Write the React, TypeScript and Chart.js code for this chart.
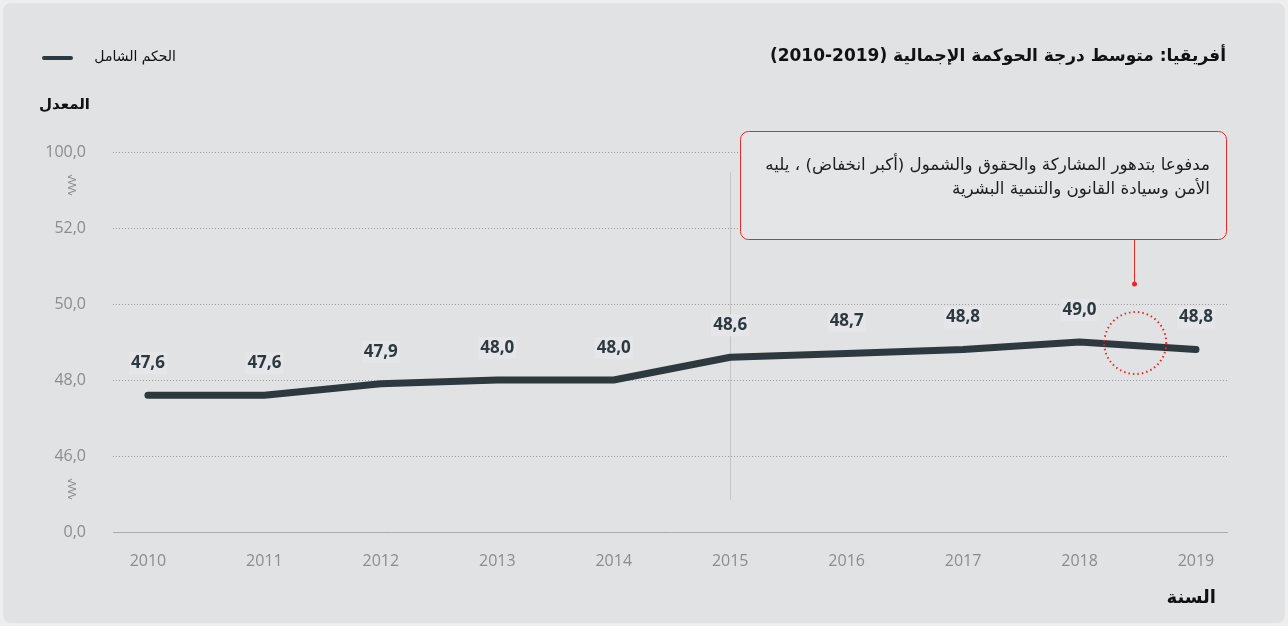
import React, { useEffect, useRef } from "react";
import { Chart, registerables } from "chart.js";

Chart.register(...registerables);

const years = [2010, 2011, 2012, 2013, 2014, 2015, 2016, 2017, 2018, 2019];
const scores = [47.6, 47.6, 47.9, 48.0, 48.0, 48.6, 48.7, 48.8, 49.0, 48.8];
const yTickValues = [0, 46, 48, 50, 52, 100];
const seriesLabel = "الحكم الشامل";
const titleText = "أفريقيا: متوسط درجة الحوكمة الإجمالية (2019-2010)";
const yTitle = "المعدل";
const xTitle = "السنة";
const noteLines = [
  "مدفوعا بتدهور المشاركة والحقوق والشمول (أكبر انخفاض) ، يليه",
  "الأمن وسيادة القانون والتنمية البشرية",
];
const markerYear = 2015;
const focusYear = 2018.47;

// broken axis: 0 | 46..52 | 100 mapped to evenly spaced positions
const toPos = (v: number) => {
  for (let i = 0; i < yTickValues.length - 1; i++) {
    const a = yTickValues[i], b = yTickValues[i + 1];
    if (v <= b) return i + (v - a) / (b - a);
  }
  return yTickValues.length - 1;
};

const fmt = (v: number) => v.toFixed(1).replace(".", ",");

const AR_FONT = "'DejaVu Sans', 'Noto Sans', sans-serif";
const NUM_FONT = "'Open Sans', 'Noto Sans', sans-serif";
const DARK = "#2d393f";

const decorPlugin = {
  id: "decor",
  beforeDraw(chart: any) {
    const { ctx, width, height } = chart;
    ctx.save();
    ctx.fillStyle = "#eeeeef";
    ctx.fillRect(0, 0, width, height);
    ctx.fillStyle = "#e1e2e4";
    ctx.beginPath();
    ctx.roundRect(3, 3, width - 6, height - 6, 8);
    ctx.fill();
    ctx.restore();
  },
  beforeDatasetsDraw(chart: any) {
    const { ctx, scales, chartArea } = chart;
    const x = scales.x, y = scales.y;
    ctx.save();
    // grid lines
    yTickValues.forEach((_, i) => {
      const py = Math.round(y.getPixelForValue(i)) + 0.5;
      ctx.beginPath();
      ctx.lineWidth = 1;
      if (i === 0) {
        ctx.setLineDash([]);
        ctx.strokeStyle = "#a9aaac";
      } else {
        ctx.setLineDash([1, 2]);
        ctx.strokeStyle = "#9c9da0";
      }
      ctx.moveTo(chartArea.left, py);
      ctx.lineTo(chartArea.right, py);
      ctx.stroke();
    });
    ctx.setLineDash([]);
    // vertical marker line
    const mx = x.getPixelForValue(markerYear);
    ctx.strokeStyle = "#c4c5c7";
    ctx.lineWidth = 1;
    ctx.beginPath();
    ctx.moveTo(Math.round(mx) + 0.5, 172);
    ctx.lineTo(Math.round(mx) + 0.5, 500);
    ctx.stroke();
    // axis break zigzags
    const drawZig = (cy: number) => {
      ctx.strokeStyle = "#8a8a8a";
      ctx.lineWidth = 1;
      ctx.beginPath();
      const cx = 72;
      ctx.moveTo(cx, cy - 10);
      for (let k = 0; k < 7; k++) {
        ctx.lineTo(cx + (k % 2 === 0 ? -4 : 4), cy - 8 + k * 2.7);
      }
      ctx.lineTo(cx, cy + 10);
      ctx.stroke();
    };
    drawZig((y.getPixelForValue(5) + y.getPixelForValue(4)) / 2 - 5);
    drawZig((y.getPixelForValue(1) + y.getPixelForValue(0)) / 2 - 5);
    ctx.restore();
  },
  afterDatasetsDraw(chart: any) {
    const { ctx, scales } = chart;
    const x = scales.x;
    const meta = chart.getDatasetMeta(0);
    ctx.save();
    // data labels
    ctx.font = `bold 17px ${NUM_FONT}`;
    ctx.textAlign = "center";
    ctx.textBaseline = "middle";
    meta.data.forEach((pt: any, i: number) => {
      const txt = fmt(scores[i]);
      const w = ctx.measureText(txt).width;
      const ly = pt.y - 32;
      ctx.fillStyle = "rgba(230,231,233,0.9)";
      ctx.fillRect(pt.x - w / 2 - 2, ly - 11, w + 4, 22);
      ctx.fillStyle = DARK;
      ctx.fillText(txt, pt.x, ly);
    });

    // callout
    const fx = x.getPixelForValue(focusYear);
    ctx.strokeStyle = "#e52a2a";
    ctx.lineWidth = 1;
    ctx.fillStyle = "#e4e5e7";
    ctx.beginPath();
    ctx.roundRect(740.5, 131.5, 486, 108, 8);
    ctx.fill();
    ctx.stroke();
    ctx.fillStyle = "#1e1e1e";
    ctx.font = `16.7px ${AR_FONT}`;
    ctx.textAlign = "right";
    ctx.direction = "rtl";
    ctx.fillText(noteLines[0], 1210, 166);
    ctx.fillText(noteLines[1], 1210, 190);
    ctx.direction = "ltr";
    ctx.beginPath();
    ctx.moveTo(Math.round(fx) + 0.5, 240);
    ctx.lineTo(Math.round(fx) + 0.5, 283);
    ctx.stroke();
    ctx.fillStyle = "#e52a2a";
    ctx.beginPath();
    ctx.arc(Math.round(fx) + 0.5, 284, 2.5, 0, Math.PI * 2);
    ctx.fill();
    // dotted circle
    ctx.setLineDash([1.5, 3]);
    ctx.lineWidth = 2;
    ctx.beginPath();
    ctx.arc(fx + 1, 343, 31, 0, Math.PI * 2);
    ctx.stroke();
    ctx.setLineDash([]);

    // title
    ctx.fillStyle = "#111";
    ctx.font = `bold 17px ${AR_FONT}`;
    ctx.textAlign = "right";
    ctx.direction = "rtl";
    ctx.fillText(titleText, 1226, 57);
    // legend
    ctx.font = `14px ${AR_FONT}`;
    ctx.fillText(seriesLabel, 176, 57);
    ctx.direction = "ltr";
    ctx.strokeStyle = DARK;
    ctx.lineWidth = 4;
    ctx.lineCap = "round";
    ctx.beginPath();
    ctx.moveTo(44, 58);
    ctx.lineTo(71, 58);
    ctx.stroke();
    // axis titles
    ctx.fillStyle = "#111";
    ctx.font = `bold 15px ${AR_FONT}`;
    ctx.direction = "rtl";
    ctx.textAlign = "right";
    ctx.fillText(yTitle, 90, 105);
    ctx.font = `bold 18px ${AR_FONT}`;
    ctx.fillText(xTitle, 1216, 598);
    ctx.restore();
  },
};

export default function App() {
  const ref = useRef<HTMLCanvasElement>(null);
  useEffect(() => {
    document.body.style.margin = "0";
    const chart = new Chart(ref.current!, {
      type: "line",
      data: {
        datasets: [
          {
            label: seriesLabel,
            data: years.map((yr, i) => ({ x: yr, y: toPos(scores[i]) })),
            borderColor: DARK,
            borderWidth: 7,
            borderCapStyle: "round",
            borderJoinStyle: "round",
            pointRadius: 0,
            tension: 0,
            fill: false,
          },
        ],
      },
      options: {
        responsive: false,
        animation: false,
        devicePixelRatio: 1,
        layout: { padding: { left: 23, right: 60, top: 152, bottom: 54 } },
        plugins: { legend: { display: false }, tooltip: { enabled: false } },
        scales: {
          x: {
            type: "linear",
            min: 2009.7,
            max: 2019.275,
            afterFit: (s: any) => { s.height = 40; },
            afterBuildTicks: (s: any) => { s.ticks = years.map((v) => ({ value: v })); },
            grid: { display: false, drawTicks: false },
            border: { display: false },
            ticks: {
              padding: 20,
              color: "#8c8c8c",
              font: { family: NUM_FONT, size: 16 },
              callback: (v: any) => String(v),
              autoSkip: false,
              maxRotation: 0,
            },
          },
          y: {
            type: "linear",
            min: 0,
            max: 5,
            afterFit: (s: any) => { s.width = 90; },
            afterBuildTicks: (s: any) => { s.ticks = yTickValues.map((_, i) => ({ value: i })); },
            border: { display: false },
            grid: { display: false, drawTicks: false },
            ticks: {
              padding: 27,
              color: "#8c8c8c",
              font: { family: NUM_FONT, size: 16 },
              callback: (v: any) => fmt(yTickValues[Math.round(v)]),
            },
          },
        },
      },
      plugins: [decorPlugin],
    } as any);
    return () => chart.destroy();
  }, []);
  return (
    <div style={{ position: "absolute", left: 0, top: 0, width: 1288, height: 626 }}>
      <canvas ref={ref} width={1288} height={626} style={{ width: 1288, height: 626, display: "block" }} />
    </div>
  );
}
